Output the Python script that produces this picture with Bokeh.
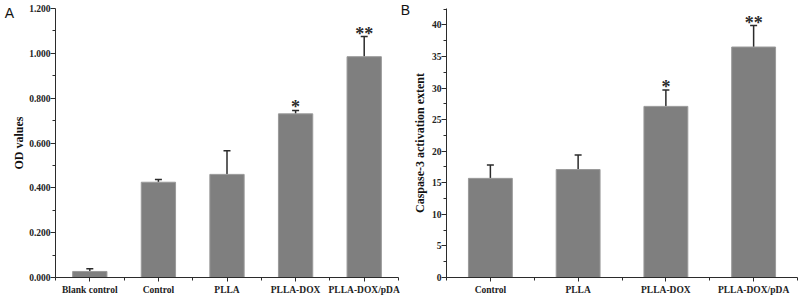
from bokeh.plotting import figure
from bokeh.layouts import row
from bokeh.models import (ColumnDataSource, Range1d, FixedTicker, NumeralTickFormatter,
                          Whisker, TeeHead, Label)
from bokeh.core.properties import value
from bokeh.embed import file_html
from bokeh.resources import INLINE
import numpy as np

# ---- data ----
cats_a = ["Blank control", "Control", "PLLA", "PLLA-DOX", "PLLA-DOX/pDA"]
od_vals = [0.027, 0.425, 0.460, 0.730, 0.985]
od_err = [0.012, 0.012, 0.105, 0.015, 0.090]
sig_a = ["", "", "", "*", "**"]

cats_b = ["Control", "PLLA", "PLLA-DOX", "PLLA-DOX/pDA"]
casp_vals = [15.7, 17.1, 27.1, 36.5]
casp_err = [2.1, 2.3, 2.6, 3.4]
sig_b = ["", "", "*", "**"]

a_ticks = [0.0, 0.2, 0.4, 0.6, 0.8, 1.0, 1.2]
b_ticks = [0, 5, 10, 15, 20, 25, 30, 35, 40]

BAR = "#7f7f7f"
INK = "#2b2b2b"
SERIF = "Liberation Serif"


def panel(cats, vals, errs, sig, ymax, yticks, yminor, fmt, ylabel, lab_standoff,
          letter, lx, ly, w, h, left, right, top, bottom):
    n = len(cats)
    xs = np.arange(n) + 0.5
    tops = [v + e for v, e in zip(vals, errs)]
    src = ColumnDataSource(dict(x=xs, v=vals, up=tops, sig=sig))
    p = figure(width=w, height=h, output_backend="svg", toolbar_location=None,
               x_range=Range1d(0, n), y_range=Range1d(0, ymax),
               min_border_left=left, min_border_right=right,
               min_border_top=top, min_border_bottom=bottom)
    p.outline_line_color = None
    p.grid.visible = False
    p.vbar(x="x", top="v", width=0.5, bottom=0, source=src,
           fill_color=BAR, line_color="#9a9a9a", line_width=1)
    p.add_layout(Whisker(base="x", lower="v", upper="up", source=src,
                         line_color=INK, line_width=1.5,
                         upper_head=TeeHead(size=7, line_color=INK, line_width=1.5),
                         lower_head=None))
    p.text(x="x", y="up", text="sig", source=src, text_align="center",
           text_baseline="alphabetic", y_offset=-3,
           text_font=value(SERIF), text_font_style="bold",
           text_font_size="18px", text_color=INK)

    xa = p.xaxis[0]
    xa.ticker = FixedTicker(ticks=list(xs), minor_ticks=list(np.arange(n + 1)))
    xa.major_label_overrides = {float(x): c for x, c in zip(xs, cats)}
    xa.major_tick_in = 0
    xa.major_tick_out = 4
    xa.minor_tick_in = 0
    xa.minor_tick_out = 3
    xa.major_label_standoff = 3
    xa.major_label_text_font = SERIF
    xa.major_label_text_font_style = "bold"
    xa.major_label_text_font_size = "9.5px"
    xa.major_label_text_color = "#222222"
    xa.axis_line_color = INK
    xa.major_tick_line_color = INK
    xa.minor_tick_line_color = INK

    ya = p.yaxis[0]
    ya.ticker = FixedTicker(ticks=yticks, minor_ticks=yminor)
    if fmt:
        ya.formatter = NumeralTickFormatter(format=fmt)
    ya.major_tick_in = 0
    ya.major_tick_out = 5
    ya.minor_tick_in = 0
    ya.minor_tick_out = 3
    ya.major_label_standoff = 0
    ya.major_label_text_font = SERIF
    ya.major_label_text_font_style = "bold"
    ya.major_label_text_font_size = "9.5px"
    ya.major_label_text_color = "#222222"
    ya.axis_line_color = INK
    ya.major_tick_line_color = INK
    ya.minor_tick_line_color = INK
    ya.axis_label = ylabel
    ya.axis_label_text_font = SERIF
    ya.axis_label_text_font_style = "bold"
    ya.axis_label_text_font_size = "12px"
    ya.axis_label_text_color = "#111111"
    ya.axis_label_standoff = lab_standoff

    # panel letter, placed in the left side panel (screen px from its bottom-left)
    p.add_layout(Label(x=lx, y=ly, x_units="screen", y_units="screen",
                       text=letter, text_align="center", text_baseline="middle",
                       text_font="Liberation Sans", text_font_size="14px",
                       text_color="#111111"), "left")
    return p


pa = panel(cats_a, od_vals, od_err, sig_a, 1.2, a_ticks,
           [0.1, 0.3, 0.5, 0.7, 0.9, 1.1], "0.000", "OD values", 0, "A", 9, 265,
           400, 299, 53, 2, 8, 22)
pb = panel(cats_b, casp_vals, casp_err, sig_b, 42.6, b_ticks,
           [2.5 + 5 * i for i in range(9)], None, "Caspase-3 activation extent", 2,
           "B", 5, 268,
           400, 299, 43, 3, 3, 21)

layout = row(pa, pb)
open("out.html", "w").write(file_html(layout, INLINE))
